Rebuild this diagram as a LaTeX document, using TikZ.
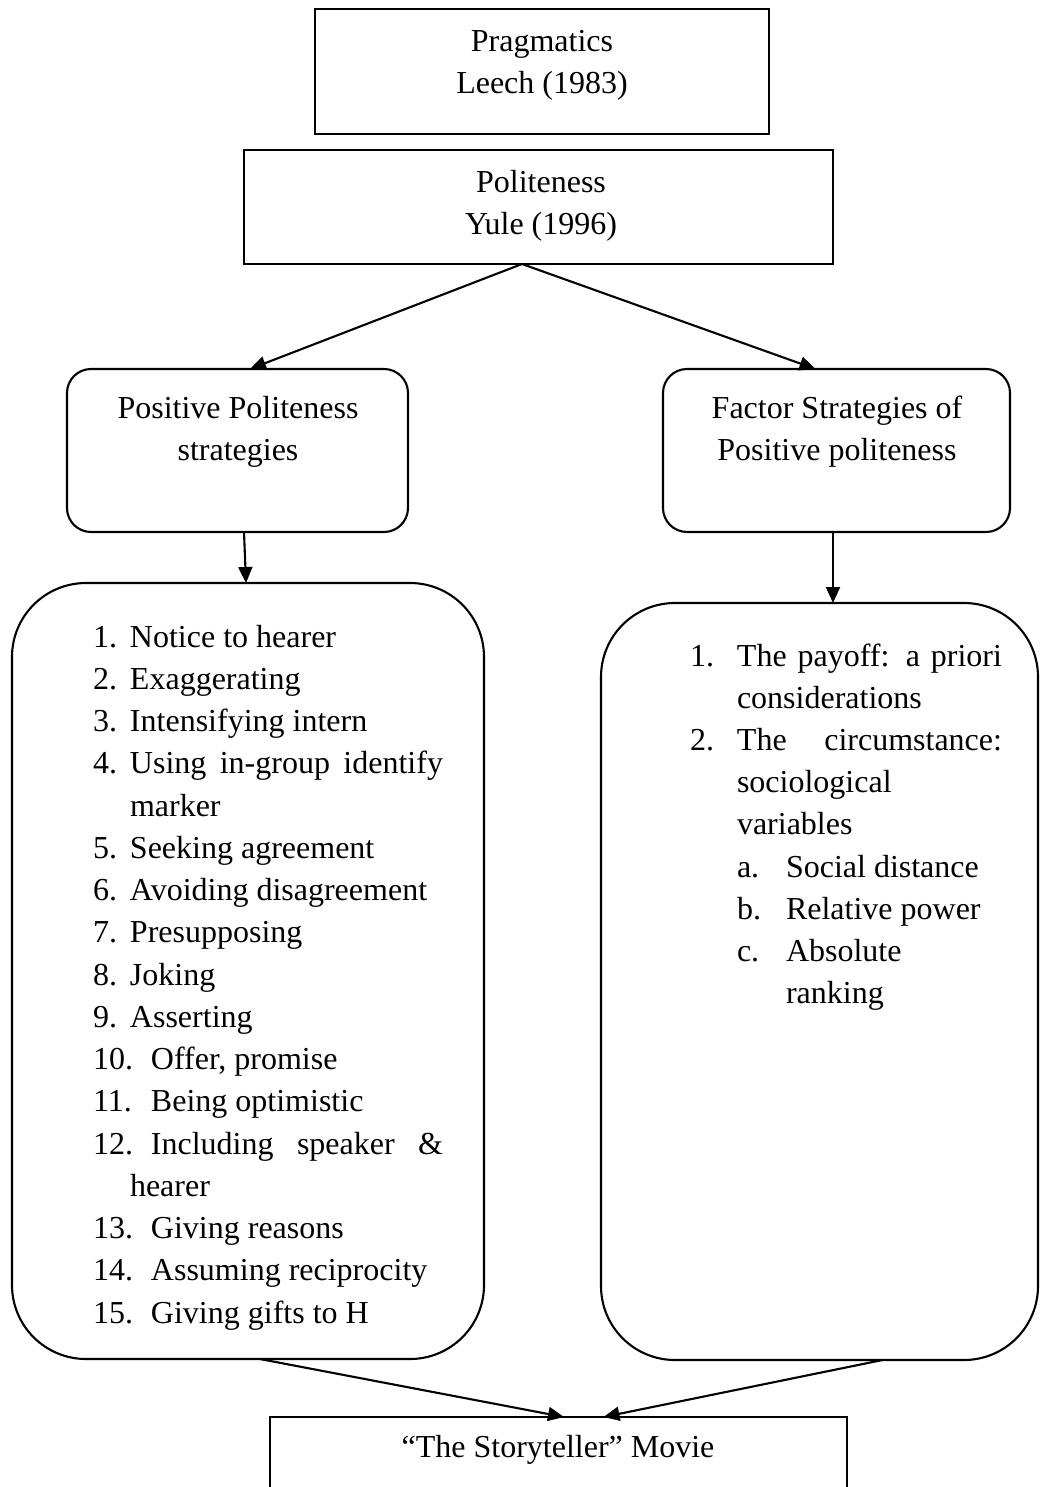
\documentclass[tikz,border=0pt]{standalone}
\usepackage{fontspec}
\setmainfont{Liberation Serif}
\usetikzlibrary{arrows.meta}
\begin{document}
\begin{tikzpicture}[x=1pt,y=-1pt,
  box/.style={draw,line width=2.1pt,inner sep=0pt,outer sep=0pt},
  rbox/.style={box,rounded corners=24pt},
  bigbox/.style={box,rounded corners=74pt},
  txt/.style={inner sep=0pt,outer sep=0pt,font=\fontsize{32}{42}\selectfont},
  arr/.style={line width=2.1pt,-{Triangle[length=16pt,width=14pt]}}]
\useasboundingbox (0,0) rectangle (1040,1487);
\fill[white] (0,0) rectangle (1040,1487);
% boxes
\node[box,minimum width=454pt,minimum height=125pt] (prag) at (542,71.5) {};
\node[box,minimum width=589pt,minimum height=114pt] (polite) at (538.5,207) {};
\node[rbox,minimum width=341pt,minimum height=163pt] (pos) at (237.5,450.5) {};
\node[rbox,minimum width=347pt,minimum height=163pt] (fac) at (836.5,450.5) {};
\node[bigbox,minimum width=472pt,minimum height=776pt] (lst) at (248,971) {};
\node[bigbox,minimum width=437pt,minimum height=757pt] (flst) at (819.5,981.5) {};
\node[box,minimum width=577pt,minimum height=113pt] (movie) at (558.5,1473.5) {};
% header texts
\node[txt,anchor=base] (h1) at (542,51.5) {Pragmatics};
\node[txt,anchor=base] (h2) at (542,93.5) {Leech (1983)};
\node[txt,anchor=base] (h3) at (541,192.5) {Politeness};
\node[txt,anchor=base] (h4) at (541,234.5) {Yule (1996)};
\node[txt,anchor=base] (h5) at (238,418) {Positive Politeness};
\node[txt,anchor=base] (h6) at (238,460) {strategies};
\node[txt,anchor=base] (h7) at (837,418) {Factor Strategies of};
\node[txt,anchor=base] (h8) at (837,460) {Positive politeness};
\node[txt,anchor=base] (h9) at (558,1457) {“The Storyteller” Movie};
% left list
\node[txt,anchor=base west] (l1) at (93,647) {\makebox[37pt][l]{1.}Notice to hearer};
\node[txt,anchor=base west] (l2) at (93,689.25) {\makebox[37pt][l]{2.}Exaggerating};
\node[txt,anchor=base west] (l3) at (93,731.5) {\makebox[37pt][l]{3.}Intensifying intern};
\node[txt,anchor=base west] (l4) at (93,773.75) {\makebox[37pt][l]{4.}\makebox[313pt][s]{Using in-group identify}};
\node[txt,anchor=base west] (l5) at (130,816) {marker};
\node[txt,anchor=base west] (l6) at (93,858.25) {\makebox[37pt][l]{5.}Seeking agreement};
\node[txt,anchor=base west] (l7) at (93,900.5) {\makebox[37pt][l]{6.}Avoiding disagreement};
\node[txt,anchor=base west] (l8) at (93,942.75) {\makebox[37pt][l]{7.}Presupposing};
\node[txt,anchor=base west] (l9) at (93,985) {\makebox[37pt][l]{8.}Joking};
\node[txt,anchor=base west] (l10) at (93,1027.25) {\makebox[37pt][l]{9.}Asserting};
\node[txt,anchor=base west] (l11) at (93,1069.5) {\makebox[58pt][l]{10.}Offer, promise};
\node[txt,anchor=base west] (l12) at (93,1111.75) {\makebox[58pt][l]{11.}Being optimistic};
\node[txt,anchor=base west] (l13) at (93,1154) {\makebox[58pt][l]{12.}\makebox[292pt][s]{Including speaker \&}};
\node[txt,anchor=base west] (l14) at (130,1196.25) {hearer};
\node[txt,anchor=base west] (l15) at (93,1238.5) {\makebox[58pt][l]{13.}Giving reasons};
\node[txt,anchor=base west] (l16) at (93,1280.75) {\makebox[58pt][l]{14.}Assuming reciprocity};
\node[txt,anchor=base west] (l17) at (93,1323) {\makebox[58pt][l]{15.}Giving gifts to H};
% right list
\node[txt,anchor=base west] (r1) at (690,666) {\makebox[47pt][l]{1.}\makebox[265pt][s]{The payoff: a priori}};
\node[txt,anchor=base west] (r2) at (737,708.2) {considerations};
\node[txt,anchor=base west] (r3) at (690,750.4) {\makebox[47pt][l]{2.}\makebox[265pt][s]{The circumstance:}};
\node[txt,anchor=base west] (r4) at (737,792.6) {sociological};
\node[txt,anchor=base west] (r5) at (737,834.8) {variables};
\node[txt,anchor=base west] (r6) at (737,877) {\makebox[49pt][l]{a.}Social distance};
\node[txt,anchor=base west] (r7) at (737,919.2) {\makebox[49pt][l]{b.}Relative power};
\node[txt,anchor=base west] (r8) at (737,961.4) {\makebox[49pt][l]{c.}Absolute};
\node[txt,anchor=base west] (r9) at (786,1003.6) {ranking};
% connectors
\draw[arr] ([xshift=-16.5pt]polite.south) -- ([xshift=12.5pt]pos.north);
\draw[arr] ([xshift=-16.5pt]polite.south) -- ([xshift=-21pt]fac.north);
\draw[arr] ([xshift=6.5pt]pos.south) -- ([xshift=-2pt]lst.north);
\draw[arr] ([xshift=-3.5pt]fac.south) -- ([xshift=13.5pt]flst.north);
\draw[arr] ([xshift=12pt]lst.south) -- ([xshift=5.5pt]movie.north);
\draw[arr] ([xshift=63pt]flst.south) -- ([xshift=45pt]movie.north);
\end{tikzpicture}
\end{document}
